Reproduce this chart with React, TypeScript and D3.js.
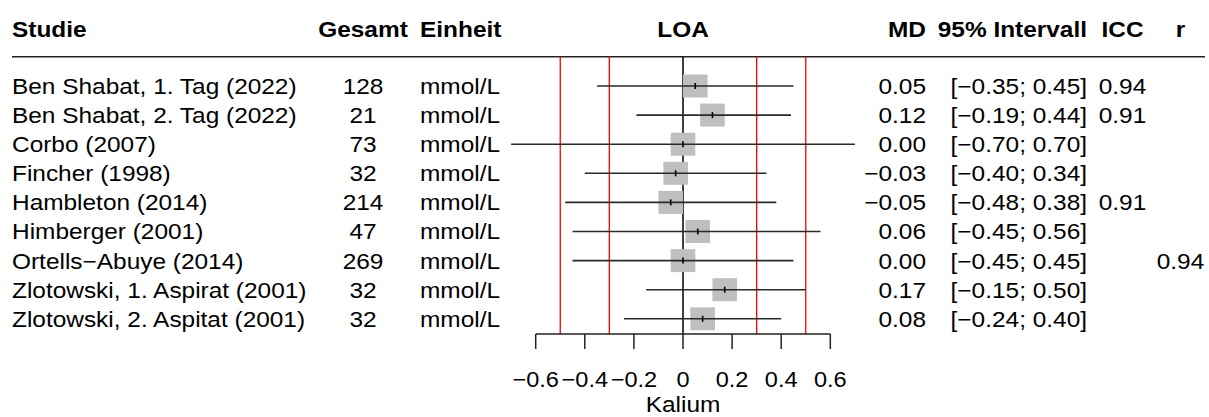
import React from "react";
import * as d3 from "d3";

const studies = [
  "Ben Shabat, 1. Tag (2022)",
  "Ben Shabat, 2. Tag (2022)",
  "Corbo (2007)",
  "Fincher (1998)",
  "Hambleton (2014)",
  "Himberger (2001)",
  "Ortells−Abuye (2014)",
  "Zlotowski, 1. Aspirat (2001)",
  "Zlotowski, 2. Aspitat (2001)",
];
const totals = [128, 21, 73, 32, 214, 47, 269, 32, 32];
const units = ["mmol/L", "mmol/L", "mmol/L", "mmol/L", "mmol/L", "mmol/L", "mmol/L", "mmol/L", "mmol/L"];
const md = [0.05, 0.12, 0.0, -0.03, -0.05, 0.06, 0.0, 0.17, 0.08];
const lower = [-0.35, -0.19, -0.7, -0.4, -0.48, -0.45, -0.45, -0.15, -0.24];
const upper = [0.45, 0.44, 0.7, 0.34, 0.38, 0.56, 0.45, 0.5, 0.4];
const icc = ["0.94", "0.91", "", "", "0.91", "", "", "", ""];
const rVals = ["", "", "", "", "", "", "0.94", "", ""];
const ticks = [-0.6, -0.4, -0.2, 0, 0.2, 0.4, 0.6];
const tickLabels = ["−0.6", "−0.4", "−0.2", "0", "0.2", "0.4", "0.6"];
const refLines = [-0.5, -0.3, 0.3, 0.5];
const headers = ["Studie", "Gesamt", "Einheit", "LOA", "MD", "95% Intervall", "ICC", "r"];
const axisTitle = "Kalium";

const W = 1209;
const H = 417;
const SX = 1.11;
const FS = 22;
const FONT = "'Liberation Sans', Arial, Helvetica, sans-serif";

const fmt = (v: number) => {
  const s = Math.abs(v).toFixed(2);
  return (v < 0 ? "−" : "") + s;
};

function T({ x, y, anchor = "start", bold = false, sx = SX, children }: any) {
  return (
    <text
      transform={`translate(${x},${y}) scale(${sx},1)`}
      textAnchor={anchor}
      fontFamily={FONT}
      fontSize={FS}
      fontWeight={bold ? "bold" : "normal"}
      fill="#000"
    >
      {children}
    </text>
  );
}

export default function App() {
  const x = d3.scaleLinear().domain([-0.6, 0.6]).range([535.7, 830.3]);
  const y = d3
    .scaleLinear()
    .domain([0, studies.length - 1])
    .range([86, 318.8]);
  const headerLineY = 56.7;
  const axisY = 334;
  const sq = 23;

  const colStudie = 12;
  const colGesamt = 363;
  const colEinheit = 420;
  const colMD = 926;
  const colCI = 1087;
  const colICC = 1122.5;
  const colR = 1180.5;
  const hb = 36.5;

  return (
    <svg
      width={W}
      height={H}
      style={{ position: "absolute", left: 0, top: 0, background: "#fff" }}
    >
      <rect x={0} y={0} width={W} height={H} fill="#fff" />
      {/* headers */}
      <T x={colStudie} y={hb} bold>{headers[0]}</T>
      <T x={colGesamt} y={hb} anchor="middle" bold>{headers[1]}</T>
      <T x={colEinheit} y={hb} bold>{headers[2]}</T>
      <T x={x(0)} y={hb} anchor="middle" bold>{headers[3]}</T>
      <T x={colMD} y={hb} anchor="end" bold>{headers[4]}</T>
      <T x={colCI} y={hb} anchor="end" bold>{headers[5]}</T>
      <T x={colICC} y={hb} anchor="middle" bold>{headers[6]}</T>
      <T x={colR} y={hb} anchor="middle" bold>{headers[7]}</T>
      <line x1={12} x2={1205} y1={headerLineY} y2={headerLineY} stroke="#222" strokeWidth={1.6} />

      {/* reference lines */}
      {refLines.map((v) => (
        <line key={v} x1={x(v)} x2={x(v)} y1={headerLineY} y2={axisY} stroke="#ff0000" strokeWidth={1.3} />
      ))}
      <line x1={x(0)} x2={x(0)} y1={headerLineY} y2={axisY} stroke="#000" strokeWidth={1.5} />

      {/* rows */}
      {studies.map((s, i) => {
        const cy = y(i);
        const bl = cy + 7.9;
        return (
          <g key={s}>
            <rect x={x(md[i]) - (sq * 1.07) / 2} y={cy - sq / 2} width={sq * 1.07} height={sq} fill="#bfbfbf" />
            <line x1={x(lower[i])} x2={x(upper[i])} y1={cy} y2={cy} stroke="#2a2a2a" strokeWidth={1.6} />
            <line x1={x(md[i])} x2={x(md[i])} y1={cy - 3} y2={cy + 3} stroke="#000" strokeWidth={1.6} />
            <T x={colStudie} y={bl}>{s}</T>
            <T x={colGesamt} y={bl} anchor="middle">{totals[i]}</T>
            <T x={colEinheit} y={bl}>{units[i]}</T>
            <T x={colMD} y={bl} anchor="end">{fmt(md[i])}</T>
            <T x={colCI} y={bl} anchor="end">{`[${fmt(lower[i])}; ${fmt(upper[i])}]`}</T>
            {icc[i] && <T x={colICC} y={bl} anchor="middle">{icc[i]}</T>}
            {rVals[i] && <T x={colR} y={bl} anchor="middle">{rVals[i]}</T>}
          </g>
        );
      })}

      {/* axis */}
      <line x1={x(-0.6)} x2={x(0.6)} y1={axisY} y2={axisY} stroke="#222" strokeWidth={1.5} />
      {ticks.map((t, i) => (
        <g key={t}>
          <line x1={x(t)} x2={x(t)} y1={axisY} y2={axisY + 15} stroke="#222" strokeWidth={1.5} />
          <T x={x(t)} y={386.7} anchor="middle" sx={1.07}>{tickLabels[i]}</T>
        </g>
      ))}
      <T x={x(0)} y={412} anchor="middle">{axisTitle}</T>
    </svg>
  );
}
